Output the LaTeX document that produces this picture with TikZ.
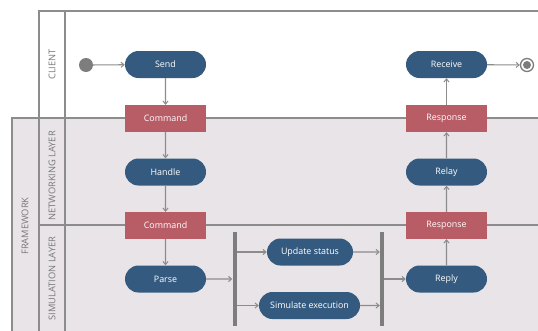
\documentclass[tikz,border=0pt]{standalone}
\usepackage{fontspec}
\setmainfont{Open Sans}
\usetikzlibrary{arrows.meta,shapes.misc}
\definecolor{actblue}{RGB}{52,91,127}
\definecolor{objred}{RGB}{184,92,102}
\definecolor{fwfill}{RGB}{232,228,232}
\definecolor{lanegray}{RGB}{140,140,140}
\definecolor{bargray}{RGB}{125,125,125}
\definecolor{labelgray}{RGB}{120,120,120}
\tikzset{
  act/.style={rounded rectangle, fill=actblue, text=white, minimum width=81pt, minimum height=27pt, inner sep=0pt, font=\fontsize{8.9}{10}\selectfont},
  obj/.style={rectangle, fill=objred, text=white, minimum width=81pt, minimum height=27pt, inner sep=0pt, font=\fontsize{8.9}{10}\selectfont},
  flow/.style={draw=lanegray, line width=1.1pt, -{Straight Barb[angle=80:4pt, line width=1pt]}},
  lane/.style={draw=lanegray, line width=1.1pt},
  lanelabel/.style={text=labelgray, rotate=90, font=\fontsize{9.3}{11}\selectfont},
  forkbar/.style={rectangle, fill=bargray, minimum width=4pt, minimum height=94pt, inner sep=0pt},
}
\begin{document}
\begin{tikzpicture}[x=1pt,y=-1pt]
\useasboundingbox (0,0) rectangle (538,330);
% swimlanes
\fill[fwfill] (12,118) rectangle (545,340);
\draw[lane] (39,340) -- (39,11) -- (545,11);
\draw[lane] (65,340) -- (65,11);
\draw[lane] (12,340) -- (12,118) -- (545,118);
\draw[lane] (39,225) -- (545,225);
\node[lanelabel] (lclient) at (52,64.5) {CLIENT};
\node[lanelabel] (lnet) at (52,176) {NETWORKING LAYER};
\node[lanelabel] (lsim) at (52,278.5) {SIMULATION LAYER};
\node[lanelabel] (lfw) at (25,226) {FRAMEWORK};
% nodes
\node[circle, fill=bargray, minimum size=14pt, inner sep=0pt] (start) at (86,65) {};
\node[act] (send) at (165.5,64.5) {Send};
\node[obj] (cmd1) at (165.5,118.5) {Command};
\node[act] (handle) at (165.5,172) {Handle};
\node[obj] (cmd2) at (165.5,225.5) {Command};
\node[act] (parse) at (165.5,279) {Parse};
\node[forkbar] (fork) at (234.5,279) {};
\node[act, minimum width=86pt] (upd) at (310,252) {Update status};
\node[act, minimum width=101pt] (sim) at (309.5,305.5) {Simulate execution};
\node[forkbar] (join) at (382,279) {};
\node[act] (reply) at (446.5,279) {Reply};
\node[obj] (resp2) at (446.5,225.5) {Response};
\node[act] (relay) at (446.5,172) {Relay};
\node[obj] (resp1) at (446.5,118.5) {Response};
\node[act] (recv) at (446.5,64.5) {Receive};
\node[circle, draw=bargray, line width=1.3pt, minimum size=13pt, inner sep=0pt] (end) at (527,65) {};
\node[circle, fill=bargray, minimum size=8pt, inner sep=0pt] (endin) at (527,65) {};
% flows
\draw[flow] (start) -- (send);
\draw[flow] (send) -- (cmd1);
\draw[flow] (cmd1) -- (handle);
\draw[flow] (handle) -- (cmd2);
\draw[flow] (cmd2) -- (parse);
\draw[flow] (parse) -- (fork);
\draw[flow] (fork.east |- upd) -- (upd);
\draw[flow] (fork.east |- sim) -- (sim);
\draw[flow] (upd) -- (join.west |- upd);
\draw[flow] (sim) -- (join.west |- sim);
\draw[flow] (join) -- (reply);
\draw[flow] (reply) -- (resp2);
\draw[flow] (resp2) -- (relay);
\draw[flow] (relay) -- (resp1);
\draw[flow] (resp1) -- (recv);
\draw[flow] (recv) -- (end);
\end{tikzpicture}
\end{document}
